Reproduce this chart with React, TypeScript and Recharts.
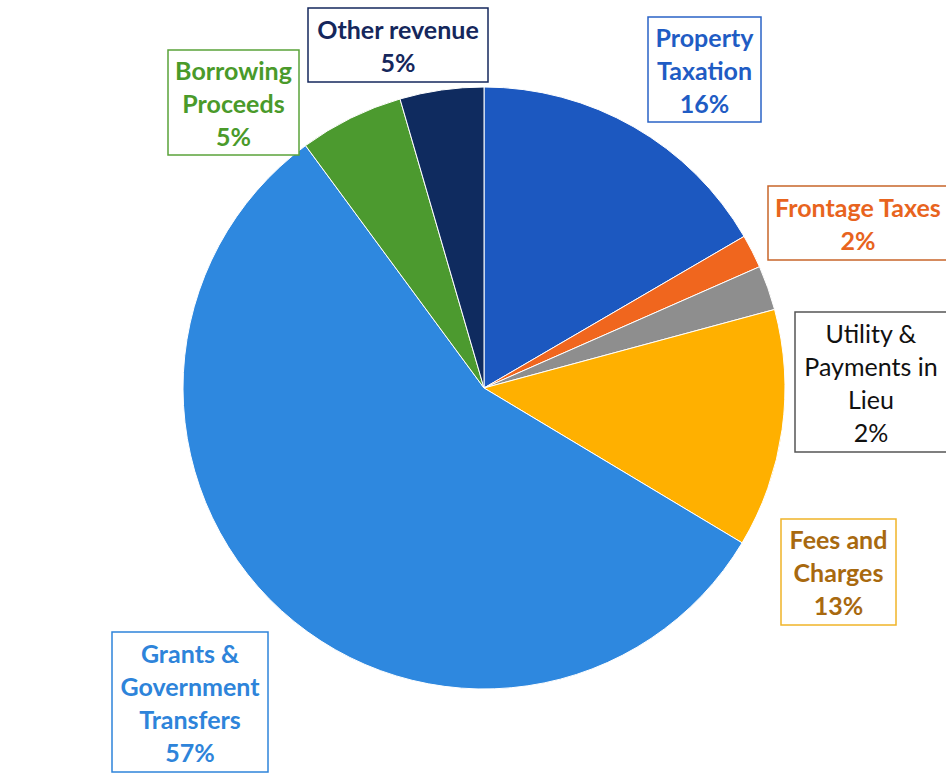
import React from 'react';
import { PieChart, Pie, Cell } from 'recharts';

const categories = [
  ['Property', 'Taxation'],
  ['Frontage Taxes'],
  ['Utility &', 'Payments in', 'Lieu'],
  ['Fees and', 'Charges'],
  ['Grants &', 'Government', 'Transfers'],
  ['Borrowing', 'Proceeds'],
  ['Other revenue'],
];
const shares = [16.6, 1.8, 2.4, 12.8, 56.3, 5.6, 4.5];
const percentLabels = ['16%', '2%', '2%', '13%', '57%', '5%', '5%'];

const sliceColors = ['#1C58C0', '#F0661E', '#8E8E8E', '#FFB000', '#2E88DF', '#4C9A2F', '#0F2B5F'];
const textColors = ['#1F5CC4', '#E8641E', '#111111', '#A8690F', '#2E84DA', '#4A9A2A', '#15275C'];
const borderColors = ['#2A63C6', '#C8652A', '#555555', '#F0B428', '#2E84DA', '#5AA33A', '#15275C'];
const boldText = [true, true, false, true, true, true, true];
// label box layout relative to pie centre: [dx, dy, width, height]
const boxLayout = [
  [220.5, -318.5, 113, 105],
  [374, -165, 180, 74],
  [387, -6, 152, 140],
  [354.5, 184, 115, 106],
  [-294, 314, 156, 140],
  [-250.5, -285.5, 131, 105],
  [-86, -343, 180, 74],
];

const data = categories.map((c, i) => ({ name: c.join(' '), value: shares[i] }));

const renderLabel = (props: any) => {
  const { cx, cy, index } = props;
  const [dx, dy, w, h] = boxLayout[index];
  const bx = cx + dx;
  const by = cy + dy;
  const lines = [...categories[index], percentLabels[index]];
  const lh = 33;
  const startY = by - ((lines.length - 1) * lh) / 2;
  return (
    <g key={`lbl-${index}`}>
      <rect x={bx - w / 2} y={by - h / 2} width={w} height={h} fill="#fff" stroke={borderColors[index]} strokeWidth={1.5} />
      {lines.map((t, k) => (
        <text
          key={k}
          x={bx}
          y={startY + k * lh}
          textAnchor="middle"
          dominantBaseline="central"
          fill={textColors[index]}
          fontSize={25}
          fontWeight={boldText[index] ? 700 : 400}
          fontFamily="Lato, 'Open Sans', sans-serif"
        >
          {t}
        </text>
      ))}
    </g>
  );
};

export default function App() {
  return (
    <div style={{ position: 'absolute', left: 0, top: 0, width: 946, height: 775, background: '#fff' }}>
      <PieChart width={946} height={775} margin={{ top: 0, right: 0, bottom: 0, left: 0 }}>
        <Pie
          data={data}
          dataKey="value"
          nameKey="name"
          cx={484}
          cy={388}
          outerRadius={301}
          startAngle={90}
          endAngle={-270}
          stroke="#ffffff"
          strokeWidth={1}
          labelLine={false}
          label={renderLabel}
          isAnimationActive={false}
        >
          {data.map((d, i) => (
            <Cell key={d.name} fill={sliceColors[i]} />
          ))}
        </Pie>
      </PieChart>
    </div>
  );
}
